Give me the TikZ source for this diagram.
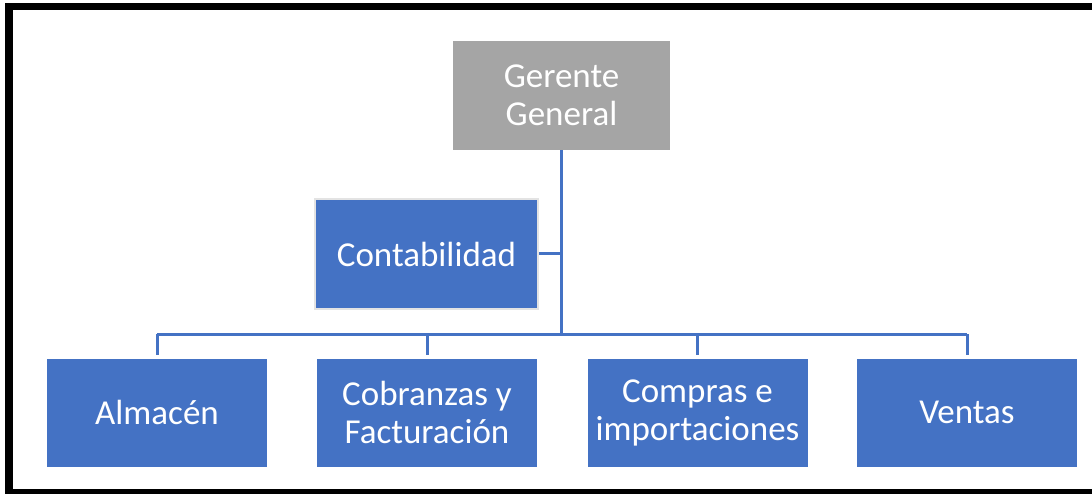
\documentclass[tikz,border=0pt]{standalone}
\usepackage{fontspec}
\setmainfont{Carlito}
\definecolor{cajaazul}{HTML}{4472C4}
\definecolor{cajagris}{HTML}{A5A5A5}
\definecolor{bordeclaro}{HTML}{E3E3E3}
\begin{document}
\begin{tikzpicture}[x=1pt,y=-1pt,
        caja/.style={fill=cajaazul,text=white,align=center,inner sep=0pt,
            minimum width=220pt,minimum height=108pt,
            font=\fontsize{35}{38}\selectfont},
        linea/.style={draw=cajaazul,line width=3pt}]
        \useasboundingbox (0,0) rectangle (1092,494);
        \draw [line width=7.5pt] (9,6.5) rectangle (1110,492.5);
        % nodos
        \node [caja,fill=cajagris,minimum width=217pt,minimum height=109pt] (gerente) at (561.5,95.5) {Gerente\\General};
        \node [caja,draw=bordeclaro,line width=2pt,minimum width=223pt,minimum height=110pt] (conta) at (426.5,254) {Contabilidad};
        \node [caja] (almacen) at (157,412.5) {Almac\'en};
        \node [caja] (cobranzas) at (427,412.5) {Cobranzas y\\Facturaci\'on};
        \node [caja] (compras) at (697.5,412.5) {Compras e\\importaciones};
        \node [caja] (ventas) at (967,412.5) {Ventas};
        % conectores
        \coordinate (bus) at (561.5,334);
        \draw [linea] (gerente.south) -- (bus);
        \draw [linea] (conta.east) -- (conta.east -| bus);
        \draw [linea] (almacen.north |- bus) -- (ventas.north |- bus);
        \foreach \n in {almacen,cobranzas,compras,ventas}
            \draw [linea] (\n.north |- bus) -- ([yshift=3pt]\n.north);
    \end{tikzpicture}
\end{document}
